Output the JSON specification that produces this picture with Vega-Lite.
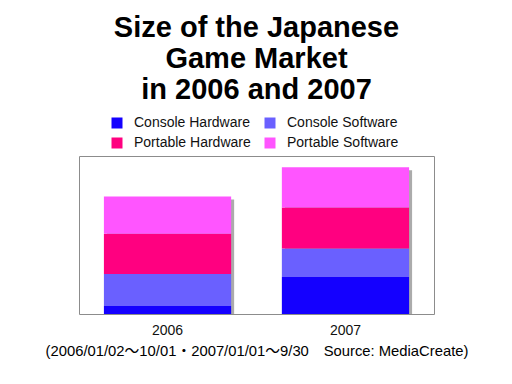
{
  "$schema": "https://vega.github.io/schema/vega-lite/v6.json",
  "width": 355,
  "height": 158,
  "autosize": {"type": "none"},
  "padding": {"left": 79, "top": 156, "right": 78, "bottom": 70},
  "background": "white",
  "title": {
    "text": ["Size of the Japanese", "Game Market", "in 2006 and 2007"],
    "font": "Liberation Sans",
    "fontSize": 29,
    "fontWeight": "bold",
    "lineHeight": 31,
    "anchor": "middle",
    "offset": 11,
    "color": "black"
  },
  "data": {
    "values": [
      {"year": "2006", "category": "Console Hardware", "value": 254},
      {"year": "2006", "category": "Console Software", "value": 1015},
      {"year": "2006", "category": "Portable Hardware", "value": 1269},
      {"year": "2006", "category": "Portable Software", "value": 1183},
      {"year": "2007", "category": "Console Hardware", "value": 1174},
      {"year": "2007", "category": "Console Software", "value": 898},
      {"year": "2007", "category": "Portable Hardware", "value": 1301},
      {"year": "2007", "category": "Portable Software", "value": 1269}
    ]
  },
  "encoding": {
    "x": {
      "field": "year",
      "type": "nominal",
      "scale": {"paddingInner": 0.285, "paddingOuter": 0.14},
      "axis": {
        "title": "(2006/01/02〜10/01・2007/01/01〜9/30\u3000Source: MediaCreate)",
        "titleFont": "Liberation Sans, Noto Sans CJK JP",
        "titleFontSize": 14.8,
        "titleFontWeight": "normal",
        "titleColor": "black",
        "titlePadding": 6,
        "labelFont": "Liberation Sans",
        "labelFontSize": 14,
        "labelColor": "#111",
        "labelAngle": 0,
        "labelPadding": 9,
        "ticks": false,
        "domain": false,
        "grid": false
      }
    }
  },
  "layer": [
    {
      "mark": {"type": "bar", "color": "#666", "opacity": 0.55, "xOffset": 3, "yOffset": 3, "y2Offset": 3},
      "encoding": {
        "y": {
          "aggregate": "sum",
          "field": "value",
          "type": "quantitative",
          "scale": {"domain": [0, 5000], "nice": false},
          "axis": null
        }
      }
    },
    {
      "mark": {"type": "bar"},
      "encoding": {
        "y": {
          "field": "value",
          "type": "quantitative",
          "stack": "zero",
          "scale": {"domain": [0, 5000], "nice": false},
          "axis": {
            "title": null,
            "values": [1000, 2000, 3000, 4000],
            "labels": false,
            "ticks": false,
            "domain": false,
            "grid": true,
            "gridColor": "#d0d0d0"
          }
        },
        "color": {
          "field": "category",
          "type": "nominal",
          "scale": {
            "domain": ["Console Hardware", "Console Software", "Portable Hardware", "Portable Software"],
            "range": ["#1400ff", "#6a60ff", "#ff0080", "#ff55ff"]
          },
          "legend": {
            "title": null,
            "orient": "none",
            "direction": "horizontal",
            "legendX": 31,
            "legendY": -40,
            "columns": 2,
            "columnPadding": 12,
            "rowPadding": 6,
            "symbolType": "square",
            "symbolSize": 121,
            "symbolStrokeWidth": 0,
            "symbolOpacity": 1,
            "labelFont": "Liberation Sans",
            "labelFontSize": 14,
            "labelColor": "#111",
            "labelOffset": 10,
            "padding": 0
          }
        },
        "order": {"field": "category", "sort": "ascending"}
      }
    }
  ],
  "config": {
    "view": {"stroke": "#8c8c8c", "strokeWidth": 1}
  }
}
